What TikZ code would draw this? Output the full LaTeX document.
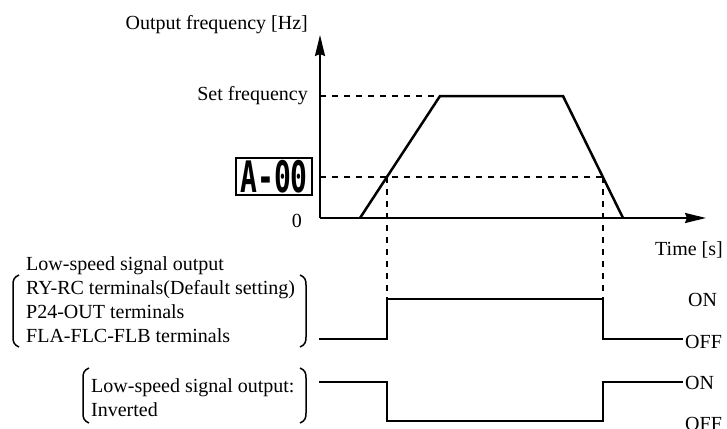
\documentclass[tikz,border=0pt]{standalone}
\usepackage{fontspec}
\setmainfont{Liberation Serif}
\newfontfamily\segfont{DejaVu Sans Mono Bold}
\usepackage{graphicx}
\usetikzlibrary{arrows.meta}
\begin{document}
\begin{tikzpicture}[x=1pt,y=-1pt,
  lbl/.style={inner sep=0pt, font=\fontsize{20}{24}\selectfont},
  axis/.style={line width=2pt},
  ramp/.style={line width=2.5pt, line join=miter},
  guide/.style={line width=1.6pt, dash pattern=on 6pt off 6pt},
  sig/.style={line width=2pt},
  brk/.style={line width=1.5pt},
  arr/.style={-{Stealth[length=21pt,width=10pt,inset=2pt]}}]
\useasboundingbox (0,0) rectangle (727,428);
% axes
\coordinate (O) at (320,218);
\coordinate (ytip) at (320,35);
\coordinate (xtip) at (706,218);
\draw[axis,arr] (O) -- (ytip);
\draw[axis,arr] (O) -- (xtip);
% ramp
\coordinate (r0) at (360,218);
\coordinate (r1) at (440,96);
\coordinate (r2) at (563,96);
\coordinate (r3) at (623,218);
\coordinate (fy) at (320,96);
\coordinate (ay) at (320,177);
\coordinate (c1) at (387,177);
\coordinate (c2) at (603,177);
\coordinate (d1) at (387,299);
\coordinate (d2) at (603,299);
\draw[guide] (fy) -- (r1);
\draw[guide] (ay) -- (c2);
\draw[guide] (c1) -- (d1);
\draw[guide] (c2) -- (d2);
\draw[ramp] (r0) -- (r1) -- (r2) -- (r3);
% labels
\node[lbl,anchor=base east] (ylab) at (308,30) {Output frequency [Hz]};
\node[lbl,anchor=base east] (setf) at (308,100) {Set frequency};
\node[lbl,anchor=base east] (zero) at (302,227) {0};
\node[lbl,anchor=base east] (tlab) at (723,255) {Time [s]};
\node[draw,line width=2pt,minimum width=76pt,minimum height=37pt,inner sep=0pt] (disp) at (274,176.5)
  {\raisebox{-0.9ex}{\scalebox{1}[1.55]{\segfont\fontsize{28}{28}\selectfont A-00}}};
% signal 1
\coordinate (s1a) at (319,339);
\coordinate (s1b) at (387,339);
\coordinate (s1c) at (603,339);
\coordinate (s1d) at (683,339);
\draw[sig] (s1a) -- (s1b) -- (d1) -- (d2) -- (s1c) -- (s1d);
\node[lbl,anchor=base west] (on1) at (688,306) {ON};
\node[lbl,anchor=base west] (off1) at (685,348) {OFF};
% signal 2
\coordinate (s2a) at (319,382);
\coordinate (s2b) at (387,382);
\coordinate (s2c) at (387,421);
\coordinate (s2d) at (603,421);
\coordinate (s2e) at (603,382);
\coordinate (s2f) at (683,382);
\draw[sig] (s2a) -- (s2b) -- (s2c) -- (s2d) -- (s2e) -- (s2f);
\node[lbl,anchor=base west] (on2) at (685,389) {ON};
\node[lbl,anchor=base west] (off2) at (685,430) {OFF};
% text block 1
\node[lbl,anchor=base west] (t1) at (26,270) {Low-speed signal output};
\node[lbl,anchor=base west] (t2) at (26,294) {RY-RC terminals(Default setting)};
\node[lbl,anchor=base west] (t3) at (26,318) {P24-OUT terminals};
\node[lbl,anchor=base west] (t4) at (26,342) {FLA-FLC-FLB terminals};
\draw[brk] (19,275) .. controls (14,277) and (13,280) .. (13,285) -- (13,337) .. controls (13,342) and (14,345) .. (19,347);
\draw[brk] (300,275) .. controls (305,277) and (306,280) .. (306,285) -- (306,337) .. controls (306,342) and (305,345) .. (300,347);
% text block 2
\node[lbl,anchor=base west] (t5) at (91,392) {Low-speed signal output:};
\node[lbl,anchor=base west] (t6) at (91,416) {Inverted};
\draw[brk] (89,368) .. controls (84,370) and (83,373) .. (83,378) -- (83,413) .. controls (83,418) and (84,421) .. (89,423);
\draw[brk] (300,368) .. controls (305,370) and (306,373) .. (306,378) -- (306,413) .. controls (306,418) and (305,421) .. (300,423);
\end{tikzpicture}
\end{document}
